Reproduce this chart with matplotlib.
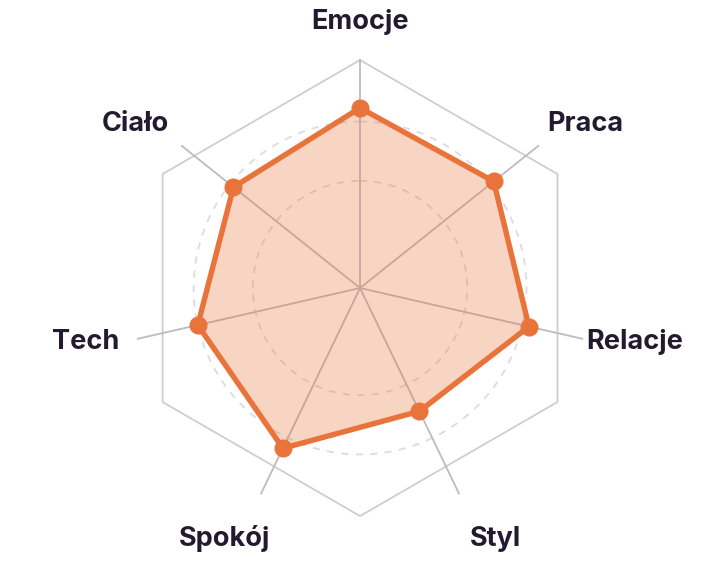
import numpy as np
import matplotlib
matplotlib.use("Agg")
import matplotlib.pyplot as plt

categories = ["Emocje", "Praca", "Relacje", "Styl", "Spokój", "Tech", "Ciało"]
values = [79, 75, 76, 60, 78, 73, 71]
r_max = 100
ring_levels = [47, 73]

plt.rcParams['font.family'] = ['Inter', 'DejaVu Sans']

DPI = 100
fig = plt.figure(figsize=(7.21, 5.68), dpi=DPI)
ax = fig.add_axes([0.1831, 0.0915, 0.6325, 0.8028], projection='polar')
ax.set_theta_zero_location('N')
ax.set_theta_direction(-1)
ax.set_ylim(0, r_max)
ax.spines['polar'].set_visible(False)
ax.grid(False)
ax.set_xticks([])
ax.set_yticks([])
ax.patch.set_alpha(0)

n = len(categories)
angles = np.linspace(0, 2 * np.pi, n, endpoint=False)

grid_col = '#cfcdd4'
# outer hexagon frame
hex_t = np.deg2rad(np.arange(0, 361, 60))
ax.plot(hex_t, [r_max] * len(hex_t), color=grid_col, lw=1.3, zorder=1, clip_on=False)

# dashed rings
tt = np.linspace(0, 2 * np.pi, 300)
for lv in ring_levels:
    ax.plot(tt, [lv] * len(tt), color='#dcdce0', lw=1.3, ls=(0, (4, 4)), zorder=1)

# spokes
for a in angles:
    ax.plot([a, a], [0, r_max], color='#bdbac4', lw=1.3, zorder=1, clip_on=False)

# data polygon
orange = '#E8743B'
ca = np.concatenate([angles, angles[:1]])
cv = values + values[:1]
ax.fill(ca, cv, color=orange, alpha=0.3, lw=0, zorder=2)
ax.plot(ca, cv, color=orange, lw=3.9, zorder=3, solid_joinstyle='miter')
ax.plot(angles, values, 'o', color=orange, ms=12, zorder=4)

# labels: anchored beyond the spoke end, nudged sideways / vertically
px2pt = 72.0 / DPI
label_r = 113.2
for a, lab in zip(angles, categories):
    s, c = np.sin(a), np.cos(a)
    dx = 0 if abs(s) < 1e-6 else 23 * np.sign(s)
    if c > 0.9:
        v = -10
    elif c < -0.5:
        v = 17
    else:
        v = -5
    dy_up = -(v + 8.7)
    ax.annotate(lab, xy=(a, label_r), xytext=(dx * px2pt, dy_up * px2pt),
                textcoords='offset points', ha='center', va='baseline',
                fontsize=19.5, fontweight='bold', color='#241a2f',
                annotation_clip=False)

fig.savefig('out.png', dpi=DPI)
